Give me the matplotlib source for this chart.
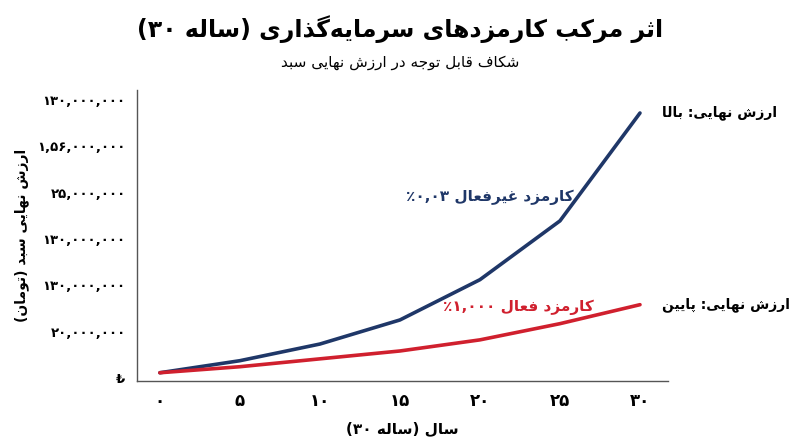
import matplotlib
matplotlib.use("Agg")
import matplotlib.pyplot as plt

# ---------- minimal Persian shaping (visual order) ----------
F = {
 'ا': (0xFE8D, 0xFE8E), 'ب': (0xFE8F, 0xFE90, 0xFE91, 0xFE92), 'ت': (0xFE95, 0xFE96, 0xFE97, 0xFE98),
 'ث': (0xFE99, 0xFE9A, 0xFE9B, 0xFE9C), 'ج': (0xFE9D, 0xFE9E, 0xFE9F, 0xFEA0), 'د': (0xFEA9, 0xFEAA),
 'ذ': (0xFEAB, 0xFEAC), 'ر': (0xFEAD, 0xFEAE), 'ز': (0xFEAF, 0xFEB0), 'س': (0xFEB1, 0xFEB2, 0xFEB3, 0xFEB4),
 'ش': (0xFEB5, 0xFEB6, 0xFEB7, 0xFEB8), 'ع': (0xFEC9, 0xFECA, 0xFECB, 0xFECC), 'غ': (0xFECD, 0xFECE, 0xFECF, 0xFED0),
 'ف': (0xFED1, 0xFED2, 0xFED3, 0xFED4), 'ق': (0xFED5, 0xFED6, 0xFED7, 0xFED8), 'ل': (0xFEDD, 0xFEDE, 0xFEDF, 0xFEE0),
 'م': (0xFEE1, 0xFEE2, 0xFEE3, 0xFEE4), 'ن': (0xFEE5, 0xFEE6, 0xFEE7, 0xFEE8), 'ه': (0xFEE9, 0xFEEA, 0xFEEB, 0xFEEC),
 'و': (0xFEED, 0xFEEE), 'پ': (0xFB56, 0xFB57, 0xFB58, 0xFB59), 'ک': (0xFB8E, 0xFB8F, 0xFB90, 0xFB91),
 'گ': (0xFB92, 0xFB93, 0xFB94, 0xFB95), 'ی': (0xFBFC, 0xFBFD, 0xFBFE, 0xFBFF),
}

def V(s):
    out = []
    for i, c in enumerate(s):
        if c == '\u200c':
            continue
        if c not in F:
            out.append({'(': ')', ')': '('}.get(c, c))
            continue
        p = s[i - 1] if i > 0 else ''
        n = s[i + 1] if i + 1 < len(s) else ''
        jp = p in F and len(F[p]) == 4
        jn = len(F[c]) == 4 and n in F
        idx = 3 if (jp and jn) else 1 if jp else 2 if jn else 0
        out.append(chr(F[c][idx]))
    return ''.join(reversed(out))

# ---------- data ----------
years = [0, 5, 10, 15, 20, 25, 30]
passive = [0.11, 0.37, 0.73, 1.25, 2.12, 3.39, 5.72]   # passive fee 0.03%
active = [0.11, 0.24, 0.41, 0.58, 0.82, 1.17, 1.58]    # active fee 1%
xtick_labels = ['۰', '۵', '۱۰', '۱۵', '۲۰', '۲۵', '۳۰']
ytick_labels = ['₺', '۲۰,۰۰۰,۰۰۰', '۱۳۰,۰۰۰,۰۰۰', '۱۳۰,۰۰۰,۰۰۰', '۲۵,۰۰۰,۰۰۰', '۱,۵۶,۰۰۰,۰۰۰', '۱۳۰,۰۰۰,۰۰۰']

BLUE = '#1f3768'
RED = '#d0202e'

plt.rcParams['font.family'] = ['DejaVu Sans']
fig = plt.figure(figsize=(8, 4.47), dpi=100)
ax = fig.add_axes([0.171, 0.148, 0.664, 0.651])
ax.plot(years, passive, color=BLUE, lw=2.6, solid_capstyle='round')
ax.plot(years, active, color=RED, lw=2.6, solid_capstyle='round')
ax.set_xlim(-1.44, 31.75)
ax.set_ylim(-0.065, 6.22)
for s in ['top', 'right']:
    ax.spines[s].set_visible(False)
for s in ['left', 'bottom']:
    ax.spines[s].set_color('#555555')
    ax.spines[s].set_linewidth(1)
ax.set_xticks(years)
ax.set_xticklabels(xtick_labels, fontsize=12, fontweight='bold')
ax.set_yticks(range(7))
ax.set_yticklabels(ytick_labels, fontsize=9.5, fontweight='bold')
ax.tick_params(length=0, pad=8)

ax.set_xlabel('(۳۰ ' + V('ساله') + ') ' + V('سال'), fontsize=11, fontweight='bold', labelpad=8)
ax.set_ylabel(V('ارزش نهایی سبد (تومان)'), fontsize=10, fontweight='bold', labelpad=6)

fig.text(0.5, 0.935, '(۳۰ ' + V('ساله') + ') ' + V('اثر مرکب کارمزدهای سرمایه\u200cگذاری'),
         ha='center', va='center', fontsize=17, fontweight='bold')
fig.text(0.5, 0.86, V('شکاف قابل توجه در ارزش نهایی سبد'), ha='center', va='center', fontsize=11)

ax.text(20.6, 3.9, '٪۰,۰۳ ' + V('کارمزد غیرفعال'), color=BLUE, fontsize=11, fontweight='bold', ha='center', va='center')
ax.text(22.4, 1.53, '٪۱,۰۰۰ ' + V('کارمزد فعال'), color=RED, fontsize=11, fontweight='bold', ha='center', va='center')
ax.text(31.4, 5.72, V('ارزش نهایی: بالا'), fontsize=10, fontweight='bold', ha='left', va='center')
ax.text(31.4, 1.58, V('ارزش نهایی: پایین'), fontsize=10, fontweight='bold', ha='left', va='center')

fig.savefig('out.png', dpi=100)
